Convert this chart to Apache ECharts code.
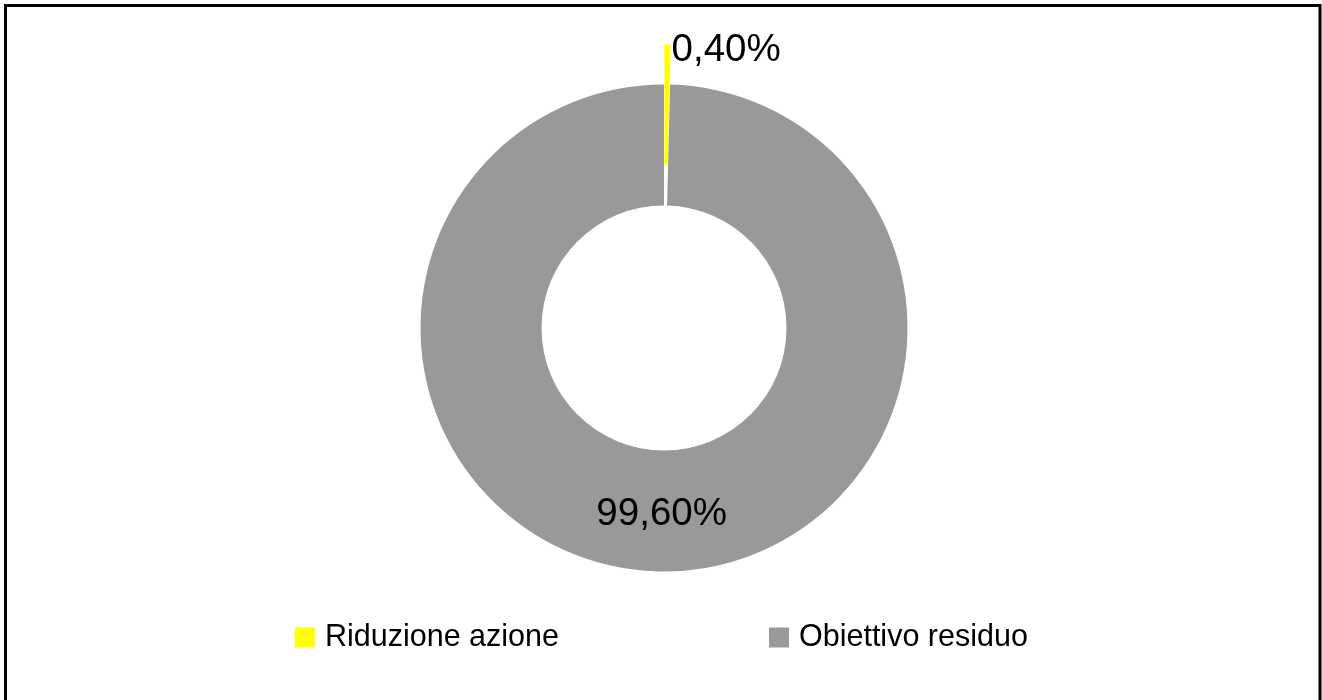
<!DOCTYPE html>
<html>
<head>
<meta charset="utf-8">
<script src="https://cdn.jsdelivr.net/npm/echarts@6/dist/echarts.min.js"></script>
<style>html,body{margin:0;padding:0;background:#fff}#c{width:1322px;height:700px}</style>
</head>
<body>
<div id="c"></div>
<script>
const categories = ['Riduzione azione', 'Obiettivo residuo'];
const values = [0.40, 99.60];
const labels = ['0,40%', '99,60%'];
const colors = ['#FFFF00', '#999999'];

const chart = echarts.init(document.getElementById('c'), null, {renderer: 'canvas'});
const font = '"Liberation Sans", Arial, sans-serif';
chart.setOption({
  animation: false,
  backgroundColor: '#ffffff',
  graphic: [{
    type: 'rect', silent: true,
    shape: {x: 5.5, y: 5.5, width: 1314.5, height: 760},
    style: {fill: 'none', stroke: '#000', lineWidth: 3}
  }],
  legend: {
    left: 290, top: 617,
    itemWidth: 20, itemHeight: 20, itemGap: 210,
    icon: 'rect',
    textStyle: {fontFamily: font, fontSize: 30.5, color: '#000', padding: [0, 0, 0, 5]},
    selectedMode: false,
    data: categories
  },
  series: [{
    type: 'pie',
    center: [664, 328],
    radius: [122.5, 243.5],
    startAngle: 90,
    clockwise: true,
    selectedMode: 'single',
    selectedOffset: 40,
    avoidLabelOverlap: false,
    silent: true,
    itemStyle: {borderWidth: 0},
    label: {fontFamily: font, fontSize: 38.5, color: '#000'},
    labelLine: {show: false, length: 0, length2: 0},
    labelLayout: function (p) { return p.dataIndex === 0 ? {dy: 6} : {}; },
    emphasis: {disabled: true},
    data: categories.map((n, i) => ({
      name: n,
      value: values[i],
      selected: i === 0,
      itemStyle: {color: colors[i]},
      label: {
        show: true,
        position: i === 0 ? 'outside' : 'inside',
        distanceToLabelLine: 4,
        formatter: labels[i]
      }
    }))
  }]
});
</script>
</body>
</html>
